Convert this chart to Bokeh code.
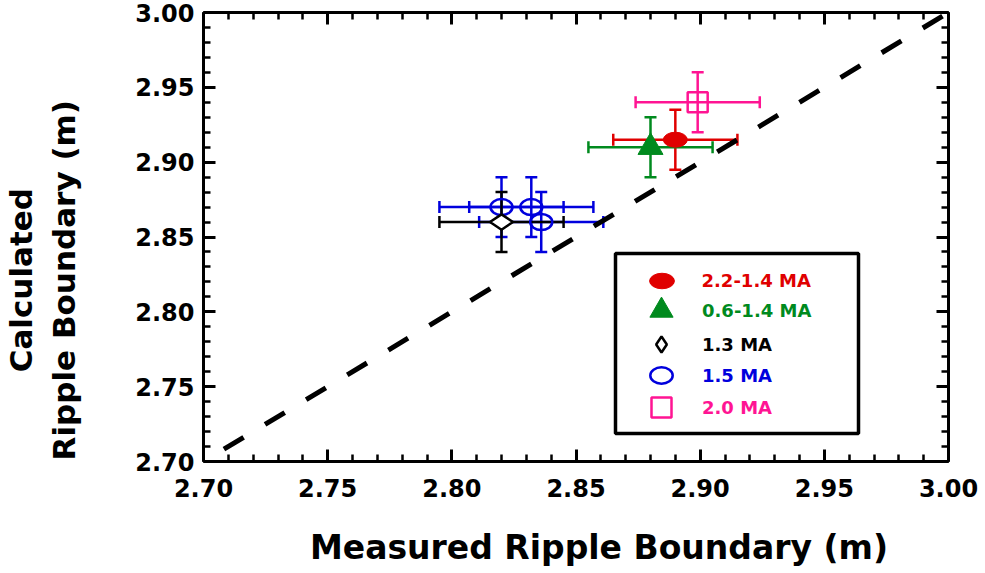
import math
from bokeh.plotting import figure
from bokeh.models import (ColumnDataSource, Whisker, TeeHead, FixedTicker, LinearAxis,
                          Legend, LegendItem, BoxAnnotation, NumeralTickFormatter)
from bokeh.embed import file_html
from bokeh.resources import INLINE

# ---------------- data ----------------
series_names = ["2.2-1.4 MA", "0.6-1.4 MA", "1.3 MA", "1.5 MA", "2.0 MA"]
series_colors = ["#e00000", "#008a1e", "#000000", "#0000dd", "#ff1493"]

red_x = [2.890]
red_y = [2.915]
green_x = [2.880]
green_y = [2.910]
black_x = [2.820]
black_y = [2.860]
blue_x = [2.820, 2.832, 2.836]
blue_y = [2.870, 2.870, 2.860]
pink_x = [2.899]
pink_y = [2.940]

x_err = 0.025
y_err = 0.020

diag_x = [3.00, 2.70]
diag_y = [3.00, 2.70]

major_ticks = [2.70, 2.75, 2.80, 2.85, 2.90, 2.95, 3.00]
minor_ticks = [round(2.70 + 0.01 * i, 2) for i in range(31)]

x_title = "Measured Ripple Boundary (m)"
y_title_lines = ["Calculated", "Ripple Boundary (m)"]

# ---------------- figure ----------------
p = figure(width=985, height=573, x_range=(2.70, 3.00), y_range=(2.70, 3.00),
           output_backend="svg", toolbar_location=None,
           min_border_left=203, min_border_right=37, min_border_top=12, min_border_bottom=112)
p.grid.visible = False
p.outline_line_color = None
p.background_fill_color = "white"
p.border_fill_color = "white"

FONT = "DejaVu Sans"
NBSP = "\u00a0"

def style_axis(ax, labels=True):
    ax.ticker = FixedTicker(ticks=major_ticks, minor_ticks=minor_ticks)
    ax.formatter = NumeralTickFormatter(format="0.00")
    ax.axis_line_width = 3
    ax.axis_line_color = "black"
    ax.major_tick_line_width = 3
    ax.minor_tick_line_width = 2.5
    ax.major_tick_in = 12
    ax.major_tick_out = 0
    ax.minor_tick_in = 7
    ax.minor_tick_out = 0
    ax.major_tick_line_color = "black"
    ax.minor_tick_line_color = "black"
    if labels:
        ax.major_label_text_font = FONT
        ax.major_label_text_font_style = "bold"
        ax.major_label_text_font_size = "24px"
        ax.major_label_text_color = "black"
    else:
        ax.major_label_text_font_size = "1px"
        ax.major_label_text_color = None
        ax.major_label_standoff = 0

style_axis(p.xaxis[0])
style_axis(p.yaxis[0])
p.xaxis[0].major_label_standoff = 17
p.yaxis[0].major_label_standoff = 9

# the titles sit a little off the frame centre in the reference; pad with no-break spaces
p.xaxis[0].axis_label = NBSP * 4 + x_title
p.xaxis[0].axis_label_text_font = FONT
p.xaxis[0].axis_label_text_font_style = "bold"
p.xaxis[0].axis_label_text_font_size = "33px"
p.xaxis[0].axis_label_text_color = "black"
p.xaxis[0].axis_label_standoff = 28

p.yaxis[0].axis_label = "\n".join(line + NBSP * 8 for line in y_title_lines)
p.yaxis[0].axis_label_text_font = FONT
p.yaxis[0].axis_label_text_font_style = "bold"
p.yaxis[0].axis_label_text_font_size = "31px"
p.yaxis[0].axis_label_text_color = "black"
p.yaxis[0].axis_label_standoff = 50

top_ax = LinearAxis()
style_axis(top_ax, labels=False)
p.add_layout(top_ax, "above")
right_ax = LinearAxis()
style_axis(right_ax, labels=False)
p.add_layout(right_ax, "right")

# ---------------- diagonal ----------------
p.line(diag_x, diag_y, line_color="black", line_width=5, line_dash="23 25", line_dash_offset=41)

# ---------------- error bars ----------------
def add_errors(xs, ys, color):
    src = ColumnDataSource(dict(
        x=xs, y=ys,
        xl=[v - x_err for v in xs], xu=[v + x_err for v in xs],
        yl=[v - y_err for v in ys], yu=[v + y_err for v in ys]))
    for dim, base, lo, up in (("width", "y", "xl", "xu"), ("height", "x", "yl", "yu")):
        w = Whisker(source=src, base=base, lower=lo, upper=up, dimension=dim,
                    line_color=color, line_width=2.5, level="underlay",
                    upper_head=TeeHead(size=12, line_color=color, line_width=2.5),
                    lower_head=TeeHead(size=12, line_color=color, line_width=2.5))
        p.add_layout(w)
    return src

red_src = add_errors(red_x, red_y, series_colors[0])
green_src = add_errors(green_x, green_y, series_colors[1])
blue_src = add_errors(blue_x, blue_y, series_colors[3])
black_src = add_errors(black_x, black_y, series_colors[2])
pink_src = add_errors(pink_x, pink_y, series_colors[4])

# ---------------- markers ----------------
r_red = p.ellipse(x="x", y="y", width=24, height=15, width_units="screen", height_units="screen",
                  source=red_src, fill_color=series_colors[0], line_color=series_colors[0])
r_green = p.scatter(x="x", y="y", marker="triangle", size=25, source=green_src,
                    fill_color=series_colors[1], line_color=series_colors[1])
r_blue = p.ellipse(x="x", y="y", width=22, height=16, width_units="screen", height_units="screen",
                   source=blue_src, fill_color=None, line_color=series_colors[3], line_width=2.5)
r_black = p.scatter(x="x", y="y", marker="diamond", size=23, angle=math.pi / 2, source=black_src,
                    fill_color="white", line_color=series_colors[2], line_width=2.5)
r_pink = p.scatter(x="x", y="y", marker="square", size=20, source=pink_src,
                   fill_color=None, line_color=series_colors[4], line_width=2.5)

# ---------------- legend ----------------
FL, FB = 203, 461  # frame left / bottom in page pixels
box = BoxAnnotation(left=615 - FL, right=858 - FL, top=FB - 253, bottom=FB - 433,
                    left_units="screen", right_units="screen", top_units="screen", bottom_units="screen",
                    fill_color="white", fill_alpha=1.0, line_color="black", line_alpha=1.0,
                    line_width=3.5)
p.add_layout(box)

renderers = [r_red, r_green, r_black, r_blue, r_pink]
glyph_boxes = [31, 58, 40, 28, 50]
row_centers = [280, 310, 344, 375, 407]
marker_cx = 661
text_left = 702
for name, color, rend, g, cy in zip(series_names, series_colors, renderers, glyph_boxes, row_centers):
    lg = Legend(items=[LegendItem(label=name, renderers=[rend])],
                location=(marker_cx - g / 2 - FL, (FB - cy) - g / 2),
                glyph_width=g, glyph_height=g, label_height=g,
                label_standoff=int(text_left - (marker_cx + g / 2)),
                padding=0, margin=0, spacing=0,
                border_line_color=None, background_fill_alpha=0,
                label_text_font=FONT, label_text_font_style="bold",
                label_text_font_size="18px", label_text_color=color)
    p.add_layout(lg)

open("out.html", "w").write(file_html(p, INLINE))
